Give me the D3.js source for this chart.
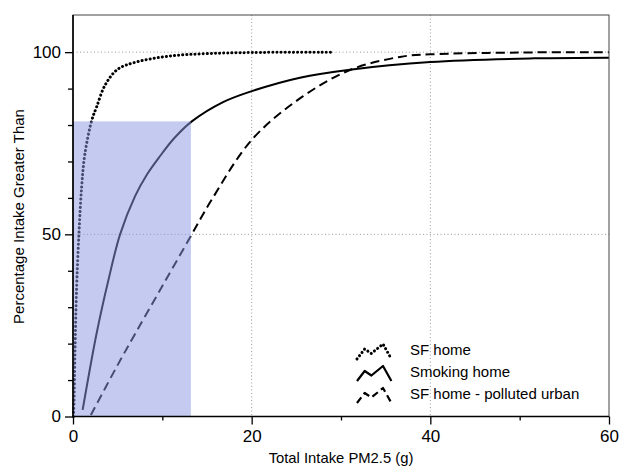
<!DOCTYPE html>
<html>
<head>
<meta charset="utf-8">
<script src="https://cdn.jsdelivr.net/npm/d3@7"></script>
<style>
  body { margin: 0; background: #fff; }
  text { font-family: "Liberation Sans", Arial, Helvetica, sans-serif; fill: #000; }
</style>
</head>
<body>
<div id="chart-area"></div>
<script>
// data
var sfHomeX = [0.05, 0.11, 0.22, 0.41, 0.67, 0.97, 1.34, 2.1, 2.65, 3.6, 5.0, 7.1, 10.7, 15, 20, 29];
var sfHomeY = [0, 3.7, 17.4, 35.6, 50.3, 63, 72.2, 81.3, 85, 91, 95.3, 97.3, 98.9, 99.6, 99.9, 100];

var smokingX = [1.08, 2.65, 3.96, 5.27, 6.95, 8.3, 9.75, 11.3, 13.3, 16.8, 20, 25.4, 31, 40, 51.6, 60];
var smokingY = [1.8, 22.9, 37.4, 50, 60.5, 66.5, 71.5, 76.3, 81, 86.3, 89.3, 93.0, 95.2, 97.3, 98.3, 98.5];

var pollutedX = [2.0, 4.9, 7.0, 10, 13.3, 15.5, 20, 25.4, 31, 36.6, 40, 50, 60];
var pollutedY = [0.4, 13.7, 22.9, 35.8, 50, 59.4, 75.9, 87.3, 95.1, 98.7, 99.4, 99.9, 100];

var seriesNames = ["SF home", "Smoking home", "SF home - polluted urban"];

// highlighted box (x up to, y up to)
var boxX = [0, 13.2];
var boxY = [0, 81];

var xMajor = [0, 20, 40, 60];
var xMinor = [10, 30, 50];
var yMajor = [0, 50, 100];
var yMinor = [10, 20, 30, 40, 60, 70, 80, 90];
var xGrid = [20, 40];
var yGrid = [50, 100];

var margin = {top: 15, right: 12, bottom: 50.5, left: 73};
var width = 621 - margin.left - margin.right,
    height = 467 - margin.top - margin.bottom;

var svg = d3.select("#chart-area")
  .append("svg")
  .attr("width", 621)
  .attr("height", 467)
  .append("g")
  .attr("transform", "translate(" + margin.left + "," + margin.top + ")");

var xScale = d3.scaleLinear().domain([0, 60]).range([0, width]);
var yScale = d3.scaleLinear().domain([0, 110.2]).range([height, 0]);

// grid
svg.selectAll(".vgrid").data(xGrid).enter().append("line")
  .attr("x1", function(d) { return xScale(d); })
  .attr("x2", function(d) { return xScale(d); })
  .attr("y1", 0).attr("y2", height)
  .attr("stroke", "#9a9a9a").attr("stroke-width", 1)
  .attr("stroke-dasharray", "1,2.5");
svg.selectAll(".hgrid").data(yGrid).enter().append("line")
  .attr("x1", 0).attr("x2", width)
  .attr("y1", function(d) { return yScale(d); })
  .attr("y2", function(d) { return yScale(d); })
  .attr("stroke", "#9a9a9a").attr("stroke-width", 1)
  .attr("stroke-dasharray", "1,2.5");

// curves
function toPoints(xs, ys) {
  return xs.map(function(x, i) { return [x, ys[i]]; });
}
var line = d3.line()
  .x(function(d) { return xScale(d[0]); })
  .y(function(d) { return yScale(d[1]); })
  .curve(d3.curveCatmullRom.alpha(0.5));

var styles = [
  {dash: "0.1,4", width: 3, cap: "round"},
  {dash: null, width: 2, cap: "butt"},
  {dash: "9,5", width: 2, cap: "butt"}
];
var seriesData = [
  toPoints(sfHomeX, sfHomeY),
  toPoints(smokingX, smokingY),
  toPoints(pollutedX, pollutedY)
];

seriesData.forEach(function(pts, i) {
  svg.append("path")
    .datum(pts)
    .attr("d", line)
    .attr("fill", "none")
    .attr("stroke", "#000")
    .attr("stroke-width", styles[i].width)
    .attr("stroke-linecap", styles[i].cap)
    .attr("stroke-dasharray", styles[i].dash);
});

// shaded region on top
svg.append("rect")
  .attr("x", xScale(boxX[0]))
  .attr("y", yScale(boxY[1]))
  .attr("width", xScale(boxX[1]) - xScale(boxX[0]))
  .attr("height", yScale(boxY[0]) - yScale(boxY[1]))
  .attr("fill", "rgb(140,152,226)")
  .attr("opacity", 0.5);

// axes
var xAxis = d3.axisBottom(xScale).tickValues(xMajor).tickSize(8).tickPadding(5);
var xAxisMinor = d3.axisBottom(xScale).tickValues(xMinor).tickSize(4).tickFormat("");
var yAxis = d3.axisLeft(yScale).tickValues(yMajor).tickSize(8).tickPadding(4);
var yAxisMinor = d3.axisLeft(yScale).tickValues(yMinor).tickSize(5).tickFormat("");

function styleAxis(g) {
  g.select(".domain").remove();
  g.selectAll(".tick line").attr("stroke", "#000").attr("stroke-width", 1.3);
  g.selectAll(".tick text").style("font-size", "17px").attr("fill", "#000");
}

svg.append("g").attr("transform", "translate(0," + height + ")").call(xAxis).call(styleAxis);
svg.append("g").attr("transform", "translate(0," + height + ")").call(xAxisMinor).call(styleAxis);
svg.append("g").call(yAxis).call(styleAxis);
svg.append("g").call(yAxisMinor).call(styleAxis);

// frame
svg.append("rect")
  .attr("x", 0).attr("y", 0)
  .attr("width", width).attr("height", height)
  .attr("fill", "none").attr("stroke", "#444").attr("stroke-width", 1);
svg.append("path")
  .attr("d", "M0,0V" + height + "H" + width)
  .attr("fill", "none").attr("stroke", "#000").attr("stroke-width", 1.6);

// axis titles
svg.append("text")
  .attr("x", width / 2)
  .attr("y", height + 46.5)
  .attr("text-anchor", "middle")
  .attr("fill", "#000")
  .style("font-size", "14.8px")
  .text("Total Intake PM2.5 (g)");

svg.append("text")
  .attr("transform", "rotate(-90)")
  .attr("x", -(216.5 - margin.top))
  .attr("y", 24 - margin.left)
  .attr("text-anchor", "middle")
  .attr("fill", "#000")
  .style("font-size", "15px")
  .text("Percentage Intake Greater Than");

// legend
var zig = [[0, 0], [7.7, -10], [14.4, -5.5], [26, -15], [34.4, 0]];
var legendLine = d3.line();
var legend = svg.append("g").attr("transform", "translate(" + (357 - margin.left) + "," + (359 - margin.top) + ")");
seriesNames.forEach(function(name, i) {
  var g = legend.append("g").attr("transform", "translate(0," + (i * 22) + ")");
  g.append("path")
    .attr("d", legendLine(zig))
    .attr("fill", "none")
    .attr("stroke", "#000")
    .attr("stroke-width", i === 0 ? 3 : 2.2)
    .attr("stroke-linecap", styles[i].cap)
    .attr("stroke-linejoin", "round")
    .attr("stroke-dasharray", i === 2 ? "7,4" : styles[i].dash);
  g.append("text")
    .attr("x", 53)
    .attr("y", -4)
    .attr("fill", "#000")
    .style("font-size", "15px")
    .text(name);
});
</script>
</body>
</html>
